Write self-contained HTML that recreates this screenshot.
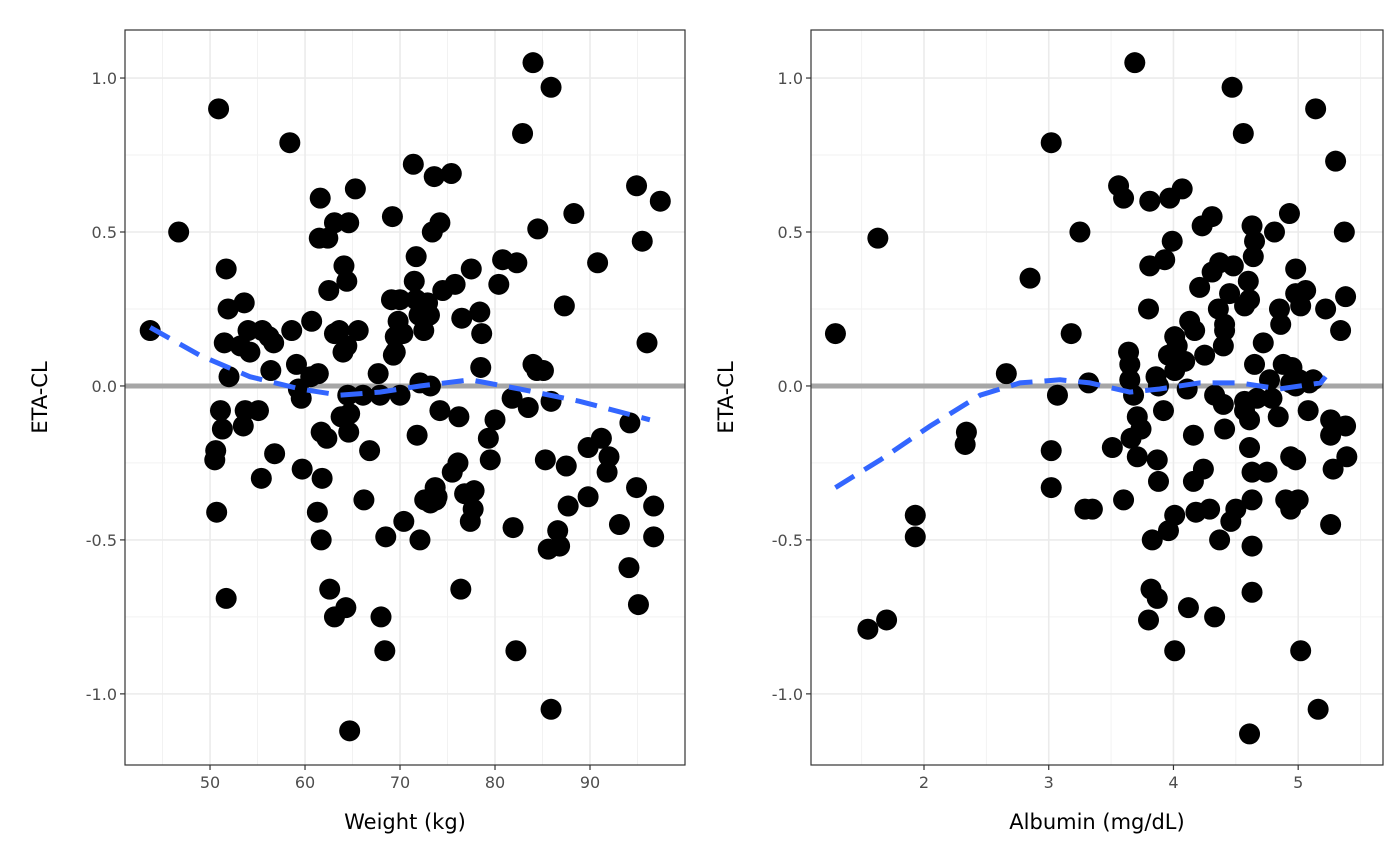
<!DOCTYPE html>
<html><head><meta charset="utf-8">
<style>
html,body{margin:0;padding:0;background:#fff;}
svg{display:block;font-family:"DejaVu Sans","Liberation Sans",sans-serif;}
</style></head>
<body>
<svg id="chart" width="1400" height="866" viewBox="0 0 1400 866" xmlns="http://www.w3.org/2000/svg"></svg>
<script>
// ---- Data ----
const weightKg = [43.7,46.7,50.9,58.4,51.7,51.9,51.5,52.0,53.6,54.0,53.2,54.2,51.1,50.6,50.5,50.7,51.7,51.3,53.7,53.5,55.1,55.4,56.7,56.4,55.5,56.2,58.6,59.1,59.3,59.6,56.8,59.7,60.7,60.6,61.4,61.5,62.5,63.1,63.6,61.6,62.4,63.1,61.7,61.8,62.3,61.7,61.3,62.6,63.1,64.3,64.1,64.4,64.5,64.4,64.0,64.7,64.6,65.6,65.3,63.8,64.6,66.2,66.8,66.1,64.7,67.9,67.7,68.0,68.4,68.5,69.1,69.5,69.5,69.3,69.2,69.8,70.0,70.0,70.3,70.4,71.4,71.7,71.5,71.7,71.8,72.1,72.1,72.0,72.5,73.1,72.9,73.2,72.6,73.4,73.6,73.7,73.8,73.2,73.9,74.2,74.5,74.2,75.4,75.5,75.8,76.2,76.1,76.4,76.8,77.4,76.5,77.5,77.7,77.8,78.4,78.6,78.5,79.3,79.5,80.4,80.0,80.8,81.8,81.9,82.3,82.2,82.9,83.5,84.0,84.0,84.4,84.5,85.1,85.3,85.6,85.9,85.9,85.9,86.6,86.8,87.5,87.3,87.7,88.3,89.8,89.8,90.8,91.2,91.8,92.0,93.1,94.1,94.2,94.9,94.9,95.5,96.0,95.1,96.7,96.7,97.4];
const etaCLWeight = [0.18,0.50,0.90,0.79,0.38,0.25,0.14,0.03,0.27,0.18,0.13,0.11,-0.08,-0.21,-0.24,-0.41,-0.69,-0.14,-0.08,-0.13,-0.08,-0.30,0.14,0.05,0.18,0.16,0.18,0.07,-0.01,-0.04,-0.22,-0.27,0.21,0.03,0.04,0.48,0.31,0.17,0.18,0.61,0.48,0.53,-0.15,-0.30,-0.17,-0.50,-0.41,-0.66,-0.75,-0.72,0.39,0.34,-0.03,0.13,0.11,-0.09,0.53,0.18,0.64,-0.10,-0.15,-0.37,-0.21,-0.03,-1.12,-0.03,0.04,-0.75,-0.86,-0.49,0.28,0.16,0.11,0.10,0.55,0.21,0.28,-0.03,0.17,-0.44,0.72,0.42,0.34,0.28,-0.16,0.01,-0.50,0.23,0.18,0.23,0.27,0.00,-0.37,0.50,0.68,-0.33,-0.37,-0.38,-0.36,0.53,0.31,-0.08,0.69,-0.28,0.33,-0.10,-0.25,-0.66,-0.35,-0.44,0.22,0.38,-0.40,-0.34,0.24,0.17,0.06,-0.17,-0.24,0.33,-0.11,0.41,-0.04,-0.46,0.40,-0.86,0.82,-0.07,1.05,0.07,0.05,0.51,0.05,-0.24,-0.53,0.97,-1.05,-0.05,-0.47,-0.52,-0.26,0.26,-0.39,0.56,-0.36,-0.20,0.40,-0.17,-0.28,-0.23,-0.45,-0.59,-0.12,0.65,-0.33,0.47,0.14,-0.71,-0.39,-0.49,0.60];
const albumin = [1.29,1.63,1.55,1.70,1.93,1.93,2.34,2.33,2.85,2.66,3.02,3.02,3.02,3.07,3.18,3.25,3.32,3.29,3.35,3.51,3.56,3.60,3.60,3.64,3.65,3.69,3.65,3.68,3.71,3.66,3.71,3.74,3.81,3.81,3.80,3.82,3.80,3.83,3.87,3.86,3.88,3.92,3.87,3.88,3.93,3.96,3.96,3.97,3.99,4.01,4.03,4.01,4.01,4.01,4.07,4.09,4.11,4.12,4.13,4.16,4.16,4.17,4.18,4.21,4.23,4.24,4.25,4.29,4.31,4.31,4.33,4.33,4.37,4.37,4.36,4.40,4.41,4.45,4.41,4.41,4.40,4.47,4.48,4.46,4.50,4.56,4.57,4.57,4.60,4.57,4.61,4.61,4.63,4.64,4.65,4.61,4.61,4.63,4.63,4.63,4.63,4.65,4.67,4.72,4.75,4.77,4.79,4.84,4.81,4.86,4.85,4.88,4.90,4.94,4.94,4.95,4.93,4.98,4.98,4.98,5.00,4.98,4.94,5.01,5.02,5.06,5.08,5.09,5.02,5.12,5.14,5.16,5.22,5.26,5.26,5.28,5.26,5.30,5.34,5.37,5.38,5.38,5.39];
const etaCLAlbumin = [0.17,0.48,-0.79,-0.76,-0.42,-0.49,-0.15,-0.19,0.35,0.04,0.79,-0.21,-0.33,-0.03,0.17,0.50,0.01,-0.40,-0.40,-0.20,0.65,0.61,-0.37,0.11,0.07,1.05,0.02,-0.03,-0.10,-0.17,-0.23,-0.14,0.60,0.39,0.25,-0.66,-0.76,-0.50,-0.69,0.03,0.00,-0.08,-0.24,-0.31,0.41,-0.47,0.10,0.61,0.47,0.16,0.13,0.05,-0.42,-0.86,0.64,0.08,-0.01,-0.72,0.21,-0.16,-0.31,0.18,-0.41,0.32,0.52,-0.27,0.10,-0.40,0.55,0.37,-0.03,-0.75,0.40,-0.50,0.25,-0.06,-0.14,0.30,0.20,0.18,0.13,0.97,0.39,-0.44,-0.40,0.82,-0.05,0.26,0.34,-0.08,0.28,-0.11,0.52,0.42,0.47,-1.13,-0.20,-0.28,-0.52,-0.67,-0.37,0.07,-0.04,0.14,-0.28,0.02,-0.04,-0.10,0.50,0.20,0.25,0.07,-0.37,-0.40,0.01,0.06,0.56,-0.24,0.30,0.38,-0.37,0.00,-0.23,0.02,0.26,0.31,-0.08,0.01,-0.86,0.02,0.90,-1.05,0.25,-0.11,-0.16,-0.27,-0.45,0.73,0.18,0.50,0.29,-0.13,-0.23];
const loessWeightX = [43.7,48.9,54.2,59.5,63.7,67.9,72.1,77.4,82.6,88.9,96.3];
const loessWeightY = [0.19,0.10,0.03,-0.01,-0.03,-0.02,0.00,0.02,-0.01,-0.05,-0.11];
const loessAlbX = [1.29,1.65,2.05,2.45,2.77,3.09,3.33,3.65,3.89,4.21,4.53,4.85,5.18,5.22];
const loessAlbY = [-0.33,-0.24,-0.13,-0.03,0.01,0.02,0.01,-0.02,-0.01,0.01,0.01,-0.01,0.01,0.03];
const weightTicks = [50,60,70,80,90];
const albTicks = [2,3,4,5];
const yTicks = [1.0,0.5,0.0,-0.5,-1.0];
const yTickLabels = ["1.0","0.5","0.0","-0.5","-1.0"];

const NS = "http://www.w3.org/2000/svg";
const svg = document.getElementById('chart');
function mk(tag, attrs, parent){
  const e = document.createElementNS(NS, tag);
  for (const k in attrs) e.setAttribute(k, attrs[k]);
  (parent||svg).appendChild(e);
  return e;
}
const Y0 = 1.156, Y1 = -1.231, PT = 30, PB = 765;
function yS(v){ return PT + (Y0 - v) / (Y0 - Y1) * (PB - PT); }

function panel(opts){
  const {left, right, xmin, xmax, xs, ys, lx, ly, ticks, minors, xtitle, key} = opts;
  const xS = v => left + (v - xmin) / (xmax - xmin) * (right - left);
  const g = mk('g', {});
  
  
  const yMinors = [0.75,0.25,-0.25,-0.75];
  yMinors.forEach(v => mk('line', {x1:left, x2:right, y1:yS(v), y2:yS(v), stroke:'#f2f2f2', 'stroke-width':1}, g));
  minors.forEach(v => mk('line', {x1:xS(v), x2:xS(v), y1:PT, y2:PB, stroke:'#f2f2f2', 'stroke-width':1}, g));
  yTicks.forEach(v => mk('line', {x1:left, x2:right, y1:yS(v), y2:yS(v), stroke:'#ebebeb', 'stroke-width':1.6}, g));
  ticks.forEach(v => mk('line', {x1:xS(v), x2:xS(v), y1:PT, y2:PB, stroke:'#ebebeb', 'stroke-width':1.6}, g));
  const z = mk('line', {x1:left, x2:right, y1:yS(0), y2:yS(0), stroke:'#a6a6a6', 'stroke-width':5}, g);
  
  
  const pg = mk('g', {}, g);
  
  
  for (let i = 0; i < Math.min(xs.length, ys.length); i++){
    const c = mk('circle', {cx:xS(xs[i]), cy:yS(ys[i]), r:10.5, fill:'#000'}, pg);
    
    
  }
  const d = lx.map((v,i) => (i ? 'L' : 'M') + xS(v).toFixed(1) + ',' + yS(ly[i]).toFixed(1)).join(' ');
  const lp = mk('path', {d:d, fill:'none', stroke:'#3366FF', 'stroke-width':5, 'stroke-dasharray':'22 12'}, g);
  
  
  mk('rect', {x:left, y:PT, width:right-left, height:PB-PT, fill:'none', stroke:'#333', 'stroke-width':1.2}, g);
  yTicks.forEach((v,i) => {
    mk('line', {x1:left-5, x2:left, y1:yS(v), y2:yS(v), stroke:'#333', 'stroke-width':1.2}, g);
    const t = mk('text', {x:left-8, y:yS(v)+6, 'text-anchor':'end', 'font-size':16, fill:'#4d4d4d'}, g);
    t.textContent = yTickLabels[i];
    
    
  });
  ticks.forEach(v => {
    mk('line', {x1:xS(v), x2:xS(v), y1:PB, y2:PB+5, stroke:'#333', 'stroke-width':1.2}, g);
    const t = mk('text', {x:xS(v), y:PB+23, 'text-anchor':'middle', 'font-size':16, fill:'#4d4d4d'}, g);
    t.textContent = String(v);
    
    
  });
  const xt = mk('text', {x:(left+right)/2, y:829, 'text-anchor':'middle', 'font-size':21, fill:'#000'}, g);
  xt.textContent = xtitle;
  
  
  const yt = mk('text', {x:0, y:0, 'text-anchor':'middle', 'font-size':21, fill:'#000', transform:'translate(' + (left-78) + ',' + ((PT+PB)/2) + ') rotate(-90)'}, g);
  yt.textContent = 'ETA-CL';
  
  
}
panel({left:125, right:685, xmin:41.05, xmax:100.0, xs:weightKg, ys:etaCLWeight, lx:loessWeightX, ly:loessWeightY,
  ticks:weightTicks, minors:[45,55,65,75,85,95], xtitle:'Weight (kg)', key:'weight'});
panel({left:811, right:1383, xmin:1.094, xmax:5.68, xs:albumin, ys:etaCLAlbumin, lx:loessAlbX, ly:loessAlbY,
  ticks:albTicks, minors:[1.5,2.5,3.5,4.5,5.5], xtitle:'Albumin (mg/dL)', key:'albumin'});
</script>
</body></html>
